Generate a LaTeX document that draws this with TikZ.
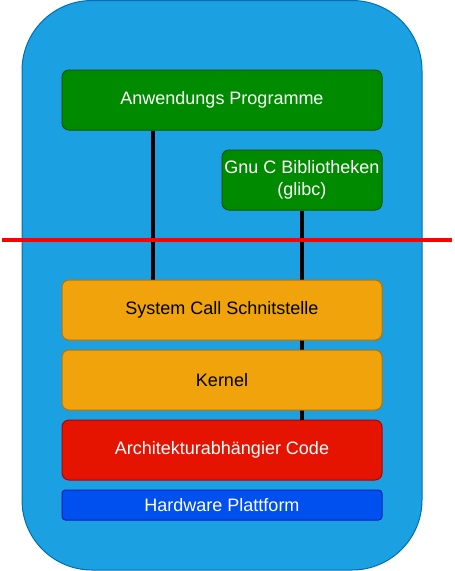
\documentclass[tikz,border=0pt]{standalone}
\usepackage{fontspec}
\setmainfont{Liberation Sans}
\definecolor{outerfill}{HTML}{1BA1E2}
\definecolor{outerdraw}{HTML}{006EAF}
\definecolor{gfill}{HTML}{008A00}
\definecolor{gdraw}{HTML}{005700}
\definecolor{ofill}{HTML}{F0A30A}
\definecolor{odraw}{HTML}{BD7000}
\definecolor{rfill}{HTML}{E51400}
\definecolor{rdraw}{HTML}{B20000}
\definecolor{bfill}{HTML}{0050EF}
\definecolor{bdraw}{HTML}{001DBC}
\begin{document}
\begin{tikzpicture}[x=1pt,y=-1pt,
  layer/.style={rectangle, rounded corners=7pt, line width=1pt, align=center, font=\fontsize{18}{22}\selectfont, inner sep=0pt},
  green/.style={layer, fill=gfill, draw=gdraw, text=white},
  orange/.style={layer, fill=ofill, draw=odraw, text=black},
  redbox/.style={layer, fill=rfill, draw=rdraw, text=white},
  bluebox/.style={layer, fill=bfill, draw=bdraw, text=white, rounded corners=3.5pt},
  conn/.style={line width=3.5pt, black}]
\useasboundingbox (0,0) rectangle (455,571);
\draw[fill=outerfill, draw=outerdraw, line width=1pt, rounded corners=70pt] (22,0.5) rectangle (422,570);
\coordinate (c1top) at (153,130);
\node[green, minimum width=320pt, minimum height=60pt] (app) at (222,100) {Anwendungs Programme};
\node[green, minimum width=160pt, minimum height=60pt] (glibc) at (302,180) {Gnu C Bibliotheken\\(glibc)};
\node[redbox, minimum width=320pt, minimum height=60pt] (arch) at (222,450) {Architekturabhängier Code};
\node[bluebox, minimum width=320pt, minimum height=30pt] (hw) at (222,505) {Hardware Plattform};
\draw[conn] (app.south -| c1top) -- (222,280 -| c1top);
\draw[conn] (glibc.south) -- (arch.north -| glibc.south);
\node[orange, minimum width=320pt, minimum height=60pt] (sci) at (222,310) {System Call Schnitstelle};
\node[orange, minimum width=320pt, minimum height=60pt] (kernel) at (222,380) {Kernel};
\coordinate (rl) at (2,240);
\coordinate (rr) at (452,240);
\draw[line width=4pt, red] (rl) -- (rr);
\end{tikzpicture}
\end{document}
